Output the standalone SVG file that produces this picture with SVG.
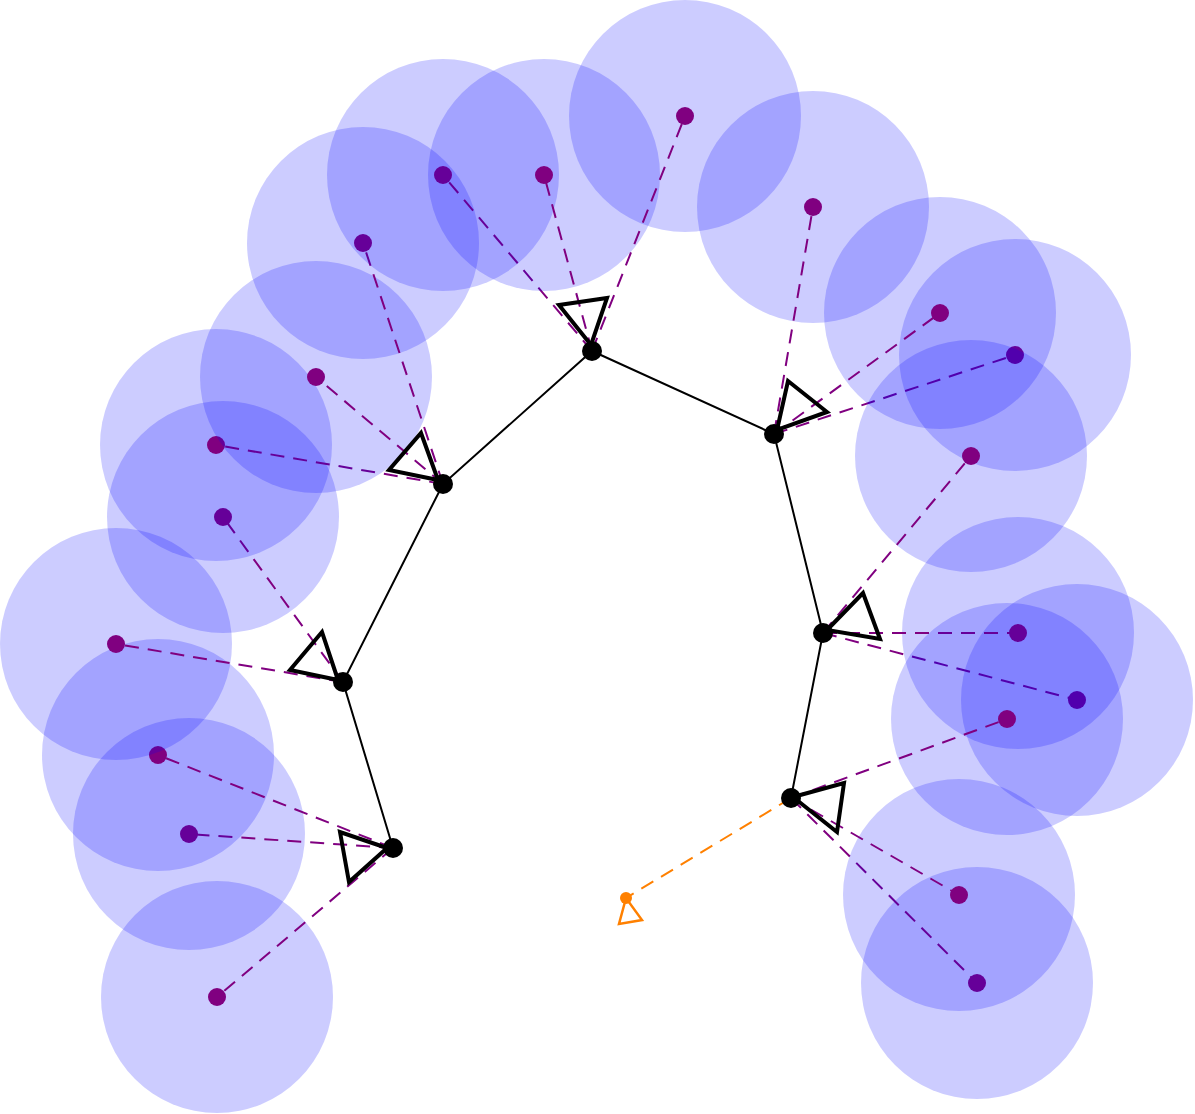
<svg xmlns="http://www.w3.org/2000/svg" width="1195" height="1114" viewBox="0 0 1195 1114">
<style>
.obs{stroke:#800080;stroke-width:2;stroke-dasharray:14,9;fill:none}
.lm{fill:#800080}
.cov{fill:#0000ff;fill-opacity:0.2}
.edge{stroke:#000;stroke-width:2;fill:none}
.pose{fill:#000}
.tri{stroke:#000;stroke-width:4;fill:none;stroke-linejoin:miter}
.cur{stroke:#ff8000;stroke-width:2;stroke-dasharray:14,9;fill:none}
</style>
<rect width="1195" height="1114" fill="#fff"/>
<g id="landmarks">
<g id="lm11"><circle class="cov" cx="217" cy="997" r="116"/><line class="obs" x1="393" y1="848" x2="217" y2="997"/><circle class="lm" cx="217" cy="997" r="9"/></g>
<g id="lm10"><circle class="cov" cx="189" cy="834" r="116"/><line class="obs" x1="393" y1="848" x2="189" y2="834"/><circle class="lm" cx="189" cy="834" r="9"/></g>
<g id="lm9"><circle class="cov" cx="158" cy="755" r="116"/><line class="obs" x1="393" y1="848" x2="158" y2="755"/><circle class="lm" cx="158" cy="755" r="9"/></g>
<g id="lm8"><circle class="cov" cx="116" cy="644" r="116"/><line class="obs" x1="343" y1="682" x2="116" y2="644"/><circle class="lm" cx="116" cy="644" r="9"/></g>
<g id="lm7"><circle class="cov" cx="223" cy="517" r="116"/><line class="obs" x1="343" y1="682" x2="223" y2="517"/><circle class="lm" cx="223" cy="517" r="9"/></g>
<g id="lm6"><circle class="cov" cx="216" cy="445" r="116"/><line class="obs" x1="443" y1="484" x2="216" y2="445"/><circle class="lm" cx="216" cy="445" r="9"/></g>
<g id="lm5"><circle class="cov" cx="316" cy="377" r="116"/><line class="obs" x1="443" y1="484" x2="316" y2="377"/><circle class="lm" cx="316" cy="377" r="9"/></g>
<g id="lm4"><circle class="cov" cx="363" cy="243" r="116"/><line class="obs" x1="443" y1="484" x2="363" y2="243"/><circle class="lm" cx="363" cy="243" r="9"/></g>
<g id="lm3"><circle class="cov" cx="443" cy="175" r="116"/><line class="obs" x1="592" y1="351" x2="443" y2="175"/><circle class="lm" cx="443" cy="175" r="9"/></g>
<g id="lm2"><circle class="cov" cx="544" cy="175" r="116"/><line class="obs" x1="592" y1="351" x2="544" y2="175"/><circle class="lm" cx="544" cy="175" r="9"/></g>
<g id="lm1"><circle class="cov" cx="685" cy="116" r="116"/><line class="obs" x1="592" y1="351" x2="685" y2="116"/><circle class="lm" cx="685" cy="116" r="9"/></g>
<g id="lm14"><circle class="cov" cx="1015" cy="355" r="116"/><line class="obs" x1="774" y1="434" x2="1015" y2="355"/><circle class="lm" cx="1015" cy="355" r="9"/></g>
<g id="lm13"><circle class="cov" cx="940" cy="313" r="116"/><line class="obs" x1="774" y1="434" x2="940" y2="313"/><circle class="lm" cx="940" cy="313" r="9"/></g>
<g id="lm12"><circle class="cov" cx="813" cy="207" r="116"/><line class="obs" x1="774" y1="434" x2="813" y2="207"/><circle class="lm" cx="813" cy="207" r="9"/></g>
<g id="lm17"><circle class="cov" cx="1077" cy="700" r="116"/><line class="obs" x1="823" y1="633" x2="1077" y2="700"/><circle class="lm" cx="1077" cy="700" r="9"/></g>
<g id="lm16"><circle class="cov" cx="1018" cy="633" r="116"/><line class="obs" x1="823" y1="633" x2="1018" y2="633"/><circle class="lm" cx="1018" cy="633" r="9"/></g>
<g id="lm15"><circle class="cov" cx="971" cy="456" r="116"/><line class="obs" x1="823" y1="633" x2="971" y2="456"/><circle class="lm" cx="971" cy="456" r="9"/></g>
<g id="lm20"><circle class="cov" cx="977" cy="983" r="116"/><line class="obs" x1="791" y1="798" x2="977" y2="983"/><circle class="lm" cx="977" cy="983" r="9"/></g>
<g id="lm19"><circle class="cov" cx="959" cy="895" r="116"/><line class="obs" x1="791" y1="798" x2="959" y2="895"/><circle class="lm" cx="959" cy="895" r="9"/></g>
<g id="lm18"><circle class="cov" cx="1007" cy="719" r="116"/><line class="obs" x1="791" y1="798" x2="1007" y2="719"/><circle class="lm" cx="1007" cy="719" r="9"/></g>
</g>
<g id="trajectory">
<polyline class="edge" points="393,848 343,682 443,484 592,351 774,434 823,633 791,798"/>
<line class="cur" x1="791" y1="798" x2="626" y2="898"/>
</g>
<g id="pose1"><circle class="pose" cx="592" cy="351" r="10"/><polygon class="tri" points="591,345 559,305 607,298"/></g>
<g id="pose2"><circle class="pose" cx="443" cy="484" r="10"/><polygon class="tri" points="438,480 421,433 389,470"/></g>
<g id="pose3"><circle class="pose" cx="343" cy="682" r="10"/><polygon class="tri" points="338,680 322,632 290,670"/></g>
<g id="pose4"><circle class="pose" cx="393" cy="848" r="10"/><polygon class="tri" points="387,848 340,832 349,882"/></g>
<g id="pose5"><circle class="pose" cx="774" cy="434" r="10"/><polygon class="tri" points="777,430 788,381 827,412"/></g>
<g id="pose6"><circle class="pose" cx="823" cy="633" r="10"/><polygon class="tri" points="827,630 863,593 880,639"/></g>
<g id="pose7"><circle class="pose" cx="791" cy="798" r="10"/><polygon class="tri" points="793,797 844,783 837,832"/></g>
<g id="current"><circle cx="626" cy="898" r="6" fill="#ff8000"/><polygon points="626,898 619,924 642,920" fill="none" stroke="#ff8000" stroke-width="2.5"/></g>
</svg>
